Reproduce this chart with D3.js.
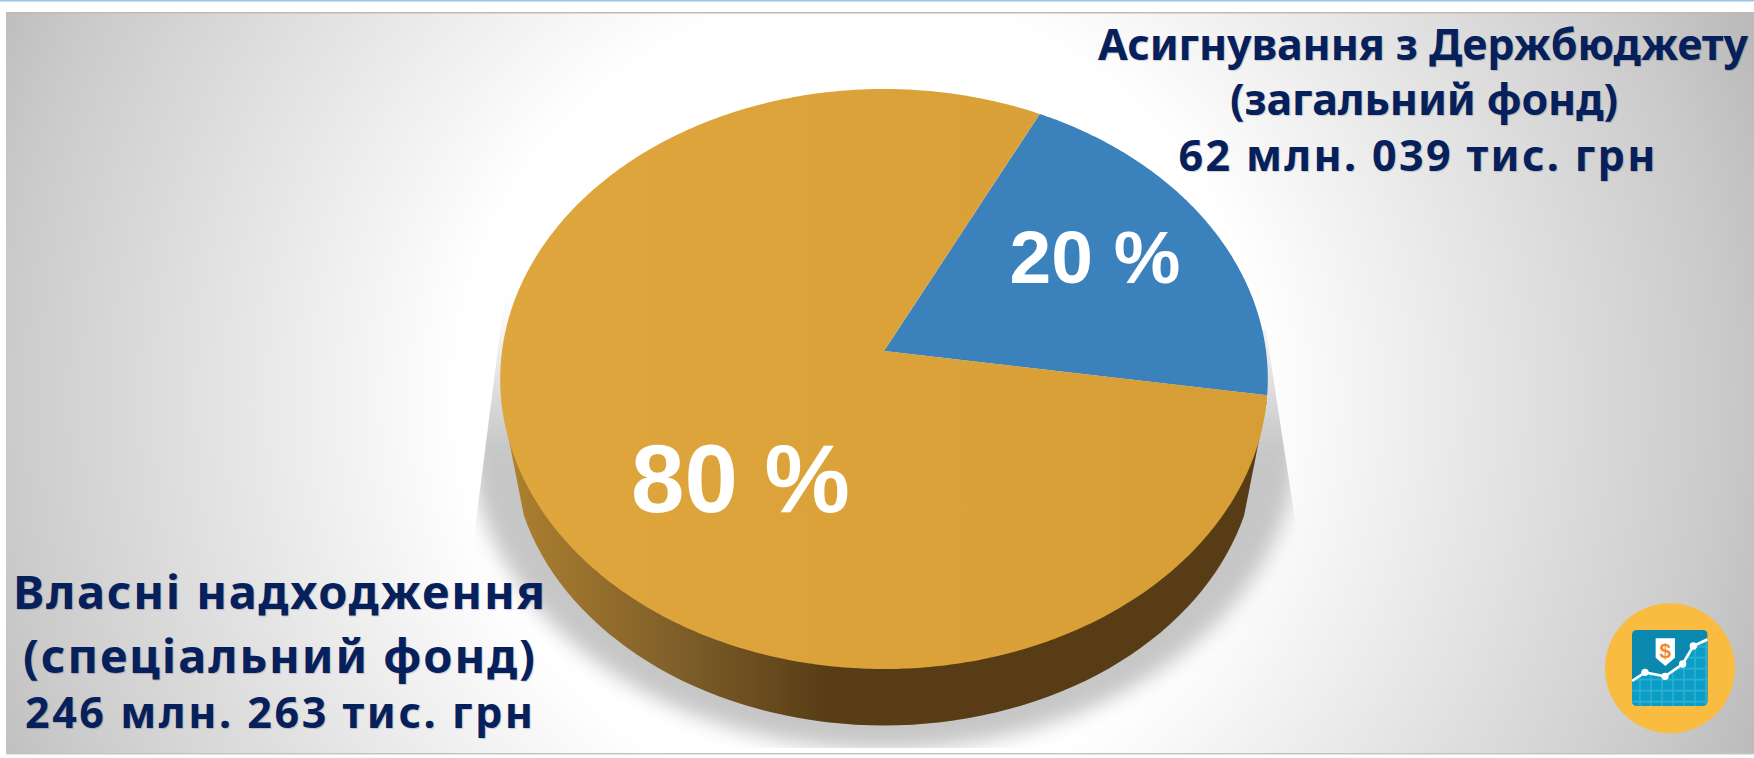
<!DOCTYPE html>
<html lang="uk"><head><meta charset="utf-8">
<script src="https://cdnjs.cloudflare.com/ajax/libs/d3/7.8.5/d3.min.js"></script>
<style>html,body{margin:0;padding:0;background:#fff;overflow:hidden}svg{display:block}</style>
</head><body><div id="c"></div>
<script>
const categories = ["Асигнування з Держбюджету (загальний фонд)", "Власні надходження (спеціальний фонд)"];
const valuesThousands = [62039, 246263];
const sliceColors = ["#3b81bc", "url(#goldFace)"];
const captionTop = ["Асигнування з Держбюджету", "(загальний фонд)", "62 млн. 039 тис. грн"];
const captionBottom = ["Власні надходження", "(спеціальний фонд)", "246 млн. 263 тис. грн"];

const W = 1754, H = 758;
const svg = d3.select("#c").append("svg").attr("width", W).attr("height", H);
const defs = svg.append("defs");

// background
const bg = defs.append("radialGradient").attr("id","bg").attr("gradientUnits","userSpaceOnUse").attr("cx",860).attr("cy",400).attr("r",960);
[[0,"#ffffff"],[.417,"#ffffff"],[.89,"#cbcbcb"],[1,"#bbbbbb"]].forEach(s=>bg.append("stop").attr("offset",s[0]).attr("stop-color",s[1]));
const gold = defs.append("linearGradient").attr("id","goldFace").attr("gradientUnits","userSpaceOnUse").attr("x1",500).attr("x2",1268).attr("y1",0).attr("y2",0);
[[0,"#dea63c"],[1,"#d69e34"]].forEach(s=>gold.append("stop").attr("offset",s[0]).attr("stop-color",s[1]));
const side = defs.append("linearGradient").attr("id","goldSide").attr("gradientUnits","userSpaceOnUse").attr("x1",510).attr("x2",830).attr("y1",0).attr("y2",0);
[[0,"#ad802e"],[.5,"#81602a"],[1,"#573c15"]].forEach(s=>side.append("stop").attr("offset",s[0]).attr("stop-color",s[1]));
const shade = defs.append("linearGradient").attr("id","shade").attr("gradientUnits","userSpaceOnUse").attr("x1",0).attr("x2",0).attr("y1",290).attr("y2",450);
[[0,0],[.35,.3],[1,1]].forEach(s=>shade.append("stop").attr("offset",s[0]).attr("stop-color","#c6c6c6").attr("stop-opacity",s[1]));
defs.append("filter").attr("id","blur").attr("x","-20%").attr("y","-20%").attr("width","140%").attr("height","140%")
  .append("feGaussianBlur").attr("stdDeviation",10);
defs.append("clipPath").attr("id","shadowClip").append("polygon")
  .attr("points","505,293 473,545 473,748 1297,748 1297,533 1266,330");

svg.append("rect").attr("width",W).attr("height",1.5).attr("fill","#9cc3e5");
svg.append("rect").attr("x",6).attr("y",12).attr("width",W-6).attr("height",742).attr("fill","url(#bg)");
svg.append("rect").attr("x",6).attr("y",12).attr("width",W-6).attr("height",1.5).attr("fill","#bbbbbb");
svg.append("rect").attr("x",6).attr("y",753).attr("width",W-6).attr("height",1.5).attr("fill","#c4c4c4");

// perspective pie
const apex = {x:884, y:351}, R = 382, Ry = 287.3, k = 0.0966;
const rotation = 26.3 * Math.PI/180;
function project(a, f=1, dy=0){
  const X = Math.sin(a), Y = -Math.cos(a), s = 1/(1 - k*Y);
  return [apex.x + f*R*X*s, apex.y + dy + f*Ry*Y*s];
}
const line = d3.line();
const arcs = d3.pie().sort(null).startAngle(rotation).endAngle(rotation+2*Math.PI)(valuesThousands);
const ring = d3.range(0,361,2).map(d=>d*Math.PI/180);
const rad = d=>d*Math.PI/180;

// shadow
svg.append("g").attr("clip-path","url(#shadowClip)").append("path")
  .attr("d", line(ring.map(a=>project(a,1.08,55)))+"Z")
  .attr("fill","url(#shade)").attr("filter","url(#blur)");

// side wall
const wall = [project(rad(100)), ...d3.range(110,251,2).map(d=>project(rad(d),.97,66)), project(rad(260))];
svg.append("path").attr("d", line(wall)+"Z").attr("fill","url(#goldSide)");

// top slices
svg.append("g").selectAll("path").data(arcs).join("path")
  .attr("d", d=>{
    const n = Math.ceil((d.endAngle-d.startAngle)/0.01);
    const pts = d3.range(n+1).map(i=>project(d.startAngle+(d.endAngle-d.startAngle)*i/n));
    return line([[apex.x,apex.y],...pts])+"Z";
  })
  .attr("fill",(d,i)=>sliceColors[i]);

// percent labels
const total = d3.sum(valuesThousands);
const pct = v=>d3.format(".0f")(v/total*100)+" %";
const pctStyle = [{x:1095,y:283,s:75},{x:740.5,y:512,s:96}];
svg.append("g").selectAll("text").data(valuesThousands).join("text")
  .attr("x",(d,i)=>pctStyle[i].x).attr("y",(d,i)=>pctStyle[i].y)
  .attr("text-anchor","middle").attr("font-family","'Liberation Sans',Arial,sans-serif")
  .attr("font-weight",700).attr("font-size",(d,i)=>pctStyle[i].s).attr("fill","#fff").text(pct);

// captions
function caption(lines, layout){
  svg.append("g").selectAll("text").data(lines).join("text")
    .attr("x",(d,i)=>layout[i].x).attr("y",(d,i)=>layout[i].y)
    .attr("text-anchor","middle").attr("font-family","'Noto Sans',sans-serif").attr("font-weight",700)
    .attr("font-size",(d,i)=>layout[i].s).attr("fill","#06205c")
    .attr("textLength",(d,i)=>layout[i].w).attr("lengthAdjust","spacing")
    .style("text-shadow","1px 1px 1px rgba(0,0,0,.18)").text(d=>d);
}
caption(captionTop,[{x:1423,y:60,s:43,w:650},{x:1424,y:115,s:43,w:388},{x:1417,y:171,s:43,w:477}]);
caption(captionBottom,[{x:279,y:609,s:47,w:532},{x:279,y:673,s:47,w:512},{x:279,y:728,s:43,w:508}]);

// icon
const ic = svg.append("g").attr("transform","translate(1560,580) scale(.3333)");
ic.append("circle").attr("cx",330).attr("cy",265).attr("r",195).attr("fill","#f9bc41");
defs.append("clipPath").attr("id","icClip").append("rect").attr("x",216).attr("y",150).attr("width",227).attr("height",228).attr("rx",14);
const icg = ic.append("g").attr("clip-path","url(#icClip)");
icg.append("rect").attr("x",216).attr("y",150).attr("width",227).attr("height",228).attr("fill","#0a88ae");
const icLine = [[216,303],[255,277],[315,289],[368,252],[400,198],[443,178]];
icg.append("path").attr("d",line([...icLine,[443,378],[216,378]])+"Z").attr("fill","#0a9dc6");
const grid = icg.append("g").attr("stroke","#37b3d3").attr("stroke-width",5).attr("opacity",.8);
defs.append("clipPath").attr("id","icArea").append("path").attr("d",line([...icLine,[443,378],[216,378]])+"Z");
grid.attr("clip-path","url(#icArea)");
d3.range(240,443,33).forEach(x=>grid.append("line").attr("x1",x).attr("x2",x).attr("y1",150).attr("y2",378));
d3.range(200,378,33).forEach(y=>grid.append("line").attr("x1",216).attr("x2",443).attr("y1",y).attr("y2",y));
icg.append("path").attr("d",line(icLine)).attr("fill","none").attr("stroke","#fff").attr("stroke-width",8);
icLine.slice(1,5).forEach(p=>icg.append("circle").attr("cx",p[0]).attr("cy",p[1]).attr("r",11).attr("fill","#fff"));
ic.append("path").attr("d","M287,175H345V233L316,258L287,233Z").attr("fill","#fff");
ic.append("text").attr("x",316).attr("y",233).attr("text-anchor","middle").attr("font-family","'Liberation Sans',sans-serif")
  .attr("font-weight",700).attr("font-size",62).attr("fill","#ef8a2b").text("$");
</script></body></html>
